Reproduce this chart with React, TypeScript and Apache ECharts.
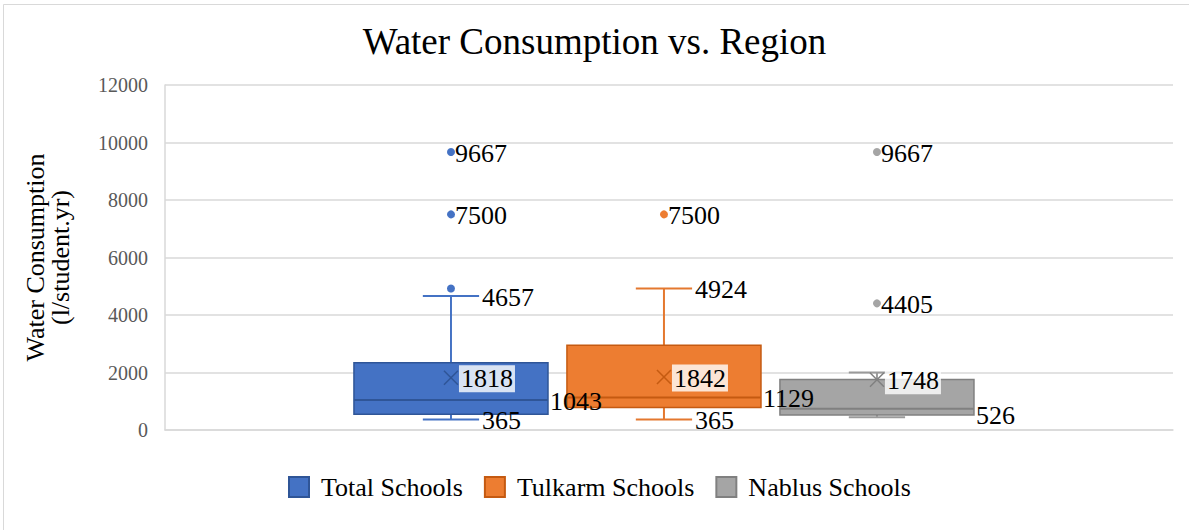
import React, { useEffect, useRef } from "react";
import * as echarts from "echarts";

const FONT = '"Liberation Serif", "Times New Roman", serif';

const chartTitle = "Water Consumption vs. Region";
const axisName = "Water Consumption\n(l/student.yr)";
const categories = ["Region"];
const seriesNames = ["Total Schools", "Tulkarm Schools", "Nablus Schools"];
const seriesColors = ["#4472C4", "#ED7D31", "#A5A5A5"];
const borderColors = ["#2F5597", "#C55A11", "#808080"];
const whiskerColors = ["#4472C4", "#E4782F", "#9A9A9A"];

// [min, Q1, median, Q3, max]
const totalBox = [365, 545, 1043, 2340, 4657];
const tulkarmBox = [365, 780, 1129, 2950, 4924];
const nablusBox = [440, 526, 740, 1755, 2000];
const boxes = [totalBox, tulkarmBox, nablusBox];

const means = [1818, 1842, 1748];

const totalOutliers = [4924, 7500, 9667];
const tulkarmOutliers = [7500];
const nablusOutliers = [4405, 9667];
const outliers = [totalOutliers, tulkarmOutliers, nablusOutliers];

// which values carry a data label
const labelledOutliers = [[7500, 9667], [7500], [4405, 9667]];
const labelledStats = [
  ["max", "mean", "median", "min"],
  ["max", "mean", "median", "min"],
  ["mean", "q1"],
];

const yTicks = { min: 0, max: 12000, interval: 2000 };

// layout fractions of the category band
const SLOT = 0.2113;
const SHIFT = -0.005;
const BOX_FRAC = 0.1925;
const CAP_FRAC = 0.29;

function makeRenderItem(i: number) {
  return (params: any, api: any) => {
    const band = api.size([1, 0])[0];
    const base = api.coord([0, 0]);
    const cx = base[0] + band * (SHIFT + (i - 1) * SLOT);
    const yOf = (v: number) => api.coord([0, v])[1];
    const [mn, q1, md, q3, mx] = boxes[i];
    const mean = means[i];
    const bw = band * BOX_FRAC;
    const cw = bw * CAP_FRAC;
    const children: any[] = [];
    const line = (x1: number, y1: number, x2: number, y2: number, stroke: string, lw: number) => ({
      type: "line",
      shape: { x1, y1, x2, y2 },
      style: { stroke, lineWidth: lw },
    });
    const wc = whiskerColors[i];
    children.push(line(cx, yOf(q3), cx, yOf(mx), wc, 2));
    children.push(line(cx, yOf(q1), cx, yOf(mn), wc, 2));
    children.push(line(cx - cw / 2, yOf(mx), cx + cw / 2, yOf(mx), wc, 2));
    children.push(line(cx - cw / 2, yOf(mn), cx + cw / 2, yOf(mn), wc, 2));
    children.push({
      type: "rect",
      shape: { x: cx - bw / 2, y: yOf(q3), width: bw, height: yOf(q1) - yOf(q3) },
      style: { fill: seriesColors[i], stroke: borderColors[i], lineWidth: 1.5 },
    });
    children.push(line(cx - bw / 2, yOf(md), cx + bw / 2, yOf(md), borderColors[i], 2));
    const my = yOf(mean);
    const s = 7;
    children.push(line(cx - s, my - s, cx + s, my + s, borderColors[i], 1.5));
    children.push(line(cx - s, my + s, cx + s, my - s, borderColors[i], 1.5));
    outliers[i].forEach((v) => {
      children.push({ type: "circle", shape: { cx, cy: yOf(v), r: 4 }, style: { fill: seriesColors[i] } });
    });
    const text = (v: number, x: number, bg?: string) => ({
      type: "text",
      x,
      y: yOf(v) + 1,
      z2: 100,
      style: {
        text: String(v),
        fill: "#000",
        fontSize: 26,
        fontFamily: FONT,
        align: "left",
        verticalAlign: "middle",
        backgroundColor: bg,
        padding: bg ? [1, 2, 0, 2] : 0,
      },
    });
    labelledOutliers[i].forEach((v) => children.push(text(v, cx + 4)));
    const stats: Record<string, number> = { min: mn, q1, median: md, q3, max: mx, mean };
    labelledStats[i].forEach((k) => {
      const v = stats[k];
      if (k === "max" || k === "min") children.push(text(v, cx + cw / 2 + 3));
      else if (k === "mean") children.push(text(v, cx + 8, "rgba(255,255,255,0.8)"));
      else children.push(text(v, cx + bw / 2 + 2));
    });
    return { type: "group", children };
  };
}

export default function App() {
  const ref = useRef<HTMLDivElement>(null);
  useEffect(() => {
    document.body.style.margin = "0";
    const chart = echarts.init(ref.current!, null, { renderer: "svg" });
    chart.setOption({
      animation: false,
      backgroundColor: "#ffffff",
      title: {
        text: chartTitle,
        left: "center",
        top: 18,
        textStyle: { fontFamily: FONT, fontSize: 37, fontWeight: "normal", color: "#000" },
      },
      graphic: [
        {
          type: "rect",
          shape: { x: 3.5, y: 4.5, width: 1300, height: 700 },
          style: { fill: "none", stroke: "#D9D9D9", lineWidth: 1 },
          silent: true,
        },
      ],
      legend: {
        data: seriesNames,
        left: 283,
        top: 469,
        icon: "rect",
        itemWidth: 20,
        itemHeight: 20,
        itemGap: 21,
        textStyle: { fontFamily: FONT, fontSize: 26, color: "#000", padding: [0, 0, 0, 7] },
      },
      grid: { left: 165, right: 16, top: 85, bottom: 100 },
      xAxis: {
        type: "category",
        data: categories,
        axisLabel: { show: false },
        axisTick: { show: false },
        axisLine: { show: true, lineStyle: { color: "#D9D9D9", width: 1.5 } },
      },
      yAxis: {
        type: "value",
        min: yTicks.min,
        max: yTicks.max,
        interval: yTicks.interval,
        name: axisName,
        nameLocation: "middle",
        nameGap: 92,
        nameTextStyle: { fontFamily: FONT, fontSize: 26, color: "#000", lineHeight: 25 },
        axisLine: { show: true, lineStyle: { color: "#D9D9D9", width: 1.5 } },
        axisTick: { show: false },
        axisLabel: {
          color: "#595959",
          fontSize: 20,
          fontFamily: FONT,
          margin: 17,
          formatter: (v: number) => String(v),
        },
        splitLine: { lineStyle: { color: "#D9D9D9", width: 1.5 } },
      },
      series: seriesNames.map((name, i) => ({
        type: "custom",
        name,
        itemStyle: { color: seriesColors[i], borderColor: borderColors[i], borderWidth: 1 },
        data: [[0, ...boxes[i], means[i]]],
        encode: { x: 0, y: [1, 2, 3, 4, 5, 6] },
        renderItem: makeRenderItem(i),
        clip: false,
      })),
    });
    return () => chart.dispose();
  }, []);
  return <div ref={ref} style={{ width: 1189, height: 530 }} />;
}
